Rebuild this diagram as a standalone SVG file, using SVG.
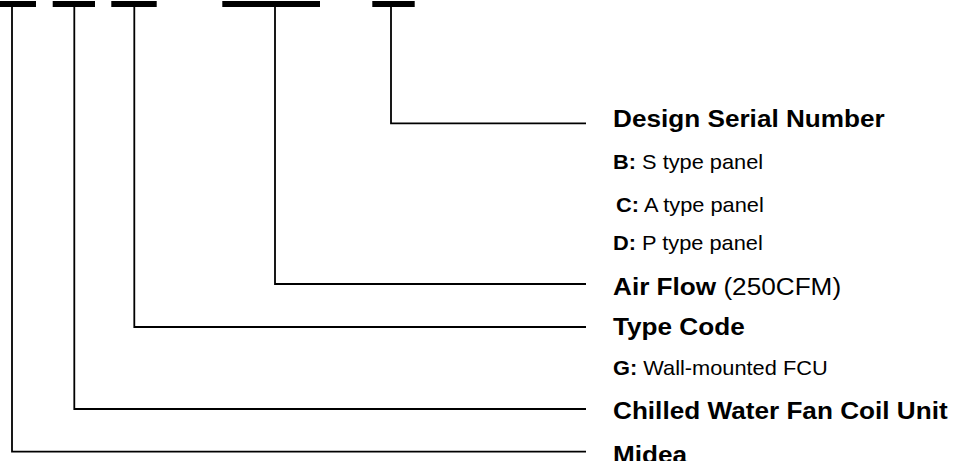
<svg xmlns="http://www.w3.org/2000/svg" width="957" height="461" viewBox="0 0 957 461">
<style>
.bar{fill:#000}
.ln{fill:none;stroke:#000;stroke-width:1.8}
text{font-family:"Liberation Sans",Arial,sans-serif;fill:#000}
.big{font-size:24px;font-weight:bold}
.small{font-size:20px}
.b{font-weight:bold}
.r{font-weight:normal}
</style>
<rect width="957" height="461" fill="#fff"/>
<g id="code-bars">
<rect class="bar" x="-2" y="1" width="38" height="6"/>
<rect class="bar" x="52.7" y="1" width="42.3" height="6"/>
<rect class="bar" x="111.3" y="1" width="45.4" height="6"/>
<rect class="bar" x="222.3" y="1" width="97.7" height="6"/>
<rect class="bar" x="372.3" y="1" width="42.4" height="6"/>
</g>
<g id="connectors">
<polyline class="ln" points="12,6 12,451.7 586,451.7"/>
<polyline class="ln" points="74.3,6 74.3,409 586,409"/>
<polyline class="ln" points="134.3,6 134.3,327 586,327"/>
<polyline class="ln" points="275,6 275,284 586,284"/>
<polyline class="ln" points="391,6 391,123.3 586,123.3"/>
</g>
<g transform="translate(613,0) scale(1.09,1)">
<g id="design-serial"><text class="big" x="0" y="127">Design Serial Number</text></g>
<g id="opt-b"><text class="small" x="0" y="169.3"><tspan class="b">B:</tspan> S type panel</text></g>
<g id="opt-c"><text class="small" x="2.8" y="211.7"><tspan class="b">C:</tspan> A type panel</text></g>
<g id="opt-d"><text class="small" x="0" y="250"><tspan class="b">D:</tspan> P type panel</text></g>
<g id="air-flow"><text class="big" x="0" y="295">Air Flow <tspan class="r">(250CFM)</tspan></text></g>
<g id="type-code"><text class="big" x="0" y="335.5">Type Code</text></g>
<g id="opt-g"><text class="small" x="0" y="375"><tspan class="b">G:</tspan> Wall-mounted FCU</text></g>
<g id="chilled"><text class="big" x="0" y="419.5">Chilled Water Fan Coil Unit</text></g>
<g id="midea"><text class="big" x="0" y="463">Midea</text></g>
</g>
</svg>
